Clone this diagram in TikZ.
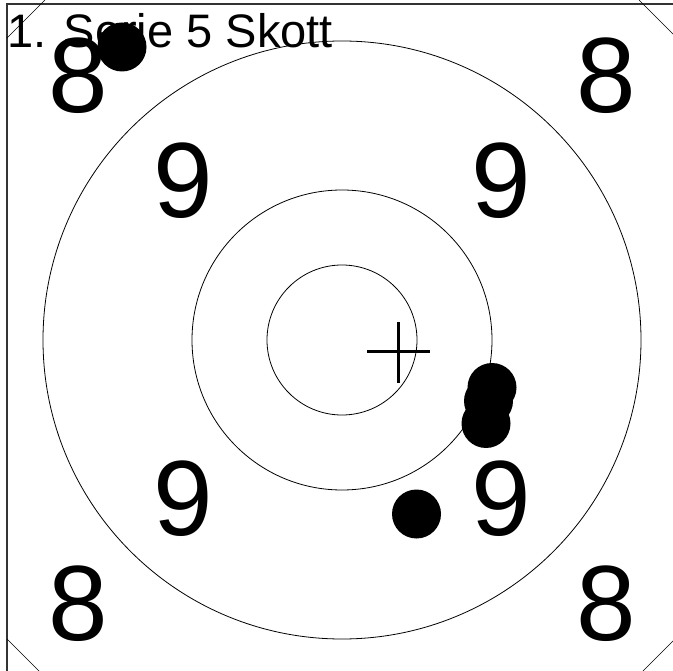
\documentclass[tikz,border=0pt]{standalone}
\usepackage{fontspec}
\setmainfont{Liberation Sans}
\usetikzlibrary{calc}
\begin{document}
\begin{tikzpicture}[x=1pt,y=-1pt,
    ring/.style={line width=0.8pt},
    frameline/.style={line width=1.2pt,black!80},
    shot/.style={circle,fill=black,inner sep=0pt,minimum size=49pt},
    score/.style={inner sep=0pt,font=\fontsize{107}{107}\selectfont}]

    % Page size of the reference, in pixels
    \useasboundingbox (0,0) rectangle (673,671);
    \clip (0,0) rectangle (673,671);

    % Centre of the target and mean point of impact
    \coordinate (C) at (342,340);
    \coordinate (M) at (398,352);

    % Frame with the cut corners
    \draw[frameline] (7,4) rectangle (677,676);
    \draw[thin] (7,38) -- (45,0);
    \draw[thin] (639,0) -- (677,38);
    \draw[thin] (7,639) -- (44,676);
    \draw[thin] (638,676) -- (677,637);

    % Rings 10, 9 and 8
    \draw[ring] (C) circle[radius=75];
    \draw[ring] (C) circle[radius=150];
    \draw[ring] (C) circle[radius=299];

    % Ring numbers
    \foreach \dx/\dy [count=\i] in {-1/-1,1/-1,-1/1,1/1} {
        \node[score] (nine\i) at ($(C)+(\dx*159,\dy*159)$) {9};
        \node[score] (eight\i) at ($(C)+(\dx*264,\dy*264)$) {8};
    }

    % Title
    \node[anchor=base west,inner sep=0pt,font=\fontsize{47}{47}\selectfont]
        (title) at (7,48) {1. Serie 5 Skott};

    % Hits
    \node[shot] (hit1) at (122,47) {};
    \node[shot] (hit2) at (492,387.5) {};
    \node[shot] (hit3) at (488.5,401) {};
    \node[shot] (hit4) at (486,423.5) {};
    \node[shot] (hit5) at (416.5,514) {};

    % Cross at the mean point of impact
    \draw[line width=3pt] (M) ++(-31,0) -- ++(63,0);
    \draw[line width=3pt] (M) ++(0,-30) -- ++(0,61);

\end{tikzpicture}
\end{document}
